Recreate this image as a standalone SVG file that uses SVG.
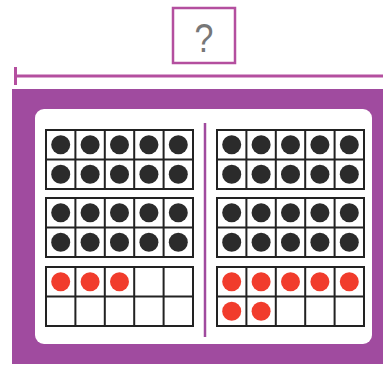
<svg xmlns="http://www.w3.org/2000/svg" width="383" height="369" viewBox="0 0 383 369">
<style>
.cell{fill:#fff;stroke:#222;stroke-width:2}
.blk{fill:#2b2b2b}
.red{fill:#f13c2c}
.pl{stroke:#b44f9f;fill:none}
</style>
<defs>
<g id="frame">
<rect class="cell" x="0" y="0" width="147" height="59"/>
<path d="M29.4 0V59M58.8 0V59M88.2 0V59M117.6 0V59M0 29.5H147" stroke="#222" stroke-width="2"/>
</g>
<g id="full">
<use href="#frame"/>
<g class="blk">
<circle cx="14.7" cy="14.8" r="9.5"/><circle cx="44.1" cy="14.8" r="9.5"/><circle cx="73.5" cy="14.8" r="9.5"/><circle cx="102.9" cy="14.8" r="9.5"/><circle cx="132.3" cy="14.8" r="9.5"/>
<circle cx="14.7" cy="44.2" r="9.5"/><circle cx="44.1" cy="44.2" r="9.5"/><circle cx="73.5" cy="44.2" r="9.5"/><circle cx="102.9" cy="44.2" r="9.5"/><circle cx="132.3" cy="44.2" r="9.5"/>
</g>
</g>
</defs>
<rect width="383" height="369" fill="#fff"/>
<g id="question">
<rect x="173" y="8" width="62" height="55" fill="#fff" stroke="#b44f9f" stroke-width="2.5"/>
<text x="204" y="52" font-family="Liberation Sans, Arial, sans-serif" font-size="40" font-weight="300" fill="#777" text-anchor="middle" transform="translate(204 52) scale(0.85 1) translate(-204 -52)">?</text>
</g>
<g id="connectors">
<line class="pl" x1="15" y1="76" x2="383" y2="76" stroke-width="3"/>
<line class="pl" x1="15.5" y1="67" x2="15.5" y2="85" stroke-width="3"/>
</g>
<g id="board">
<rect x="12" y="89" width="380" height="275" fill="#a04b9f"/>
<rect x="35" y="109" width="337" height="235" rx="9" fill="#fff"/>
<line x1="205" y1="123" x2="205" y2="337" stroke="#a04a9e" stroke-width="2.5"/>
</g>
<g id="left">
<use href="#full" x="46" y="130"/>
<use href="#full" x="46" y="198"/>
<g transform="translate(46 267)">
<use href="#frame"/>
<g class="red"><circle cx="14.7" cy="14.8" r="9.5"/><circle cx="44.1" cy="14.8" r="9.5"/><circle cx="73.5" cy="14.8" r="9.5"/></g>
</g>
</g>
<g id="right">
<use href="#full" x="217" y="130"/>
<use href="#full" x="217" y="198"/>
<g transform="translate(217 267)">
<use href="#frame"/>
<g class="red"><circle cx="14.7" cy="14.8" r="9.5"/><circle cx="44.1" cy="14.8" r="9.5"/><circle cx="73.5" cy="14.8" r="9.5"/><circle cx="102.9" cy="14.8" r="9.5"/><circle cx="132.3" cy="14.8" r="9.5"/><circle cx="14.7" cy="44.2" r="9.5"/><circle cx="44.1" cy="44.2" r="9.5"/></g>
</g>
</g>
</svg>
